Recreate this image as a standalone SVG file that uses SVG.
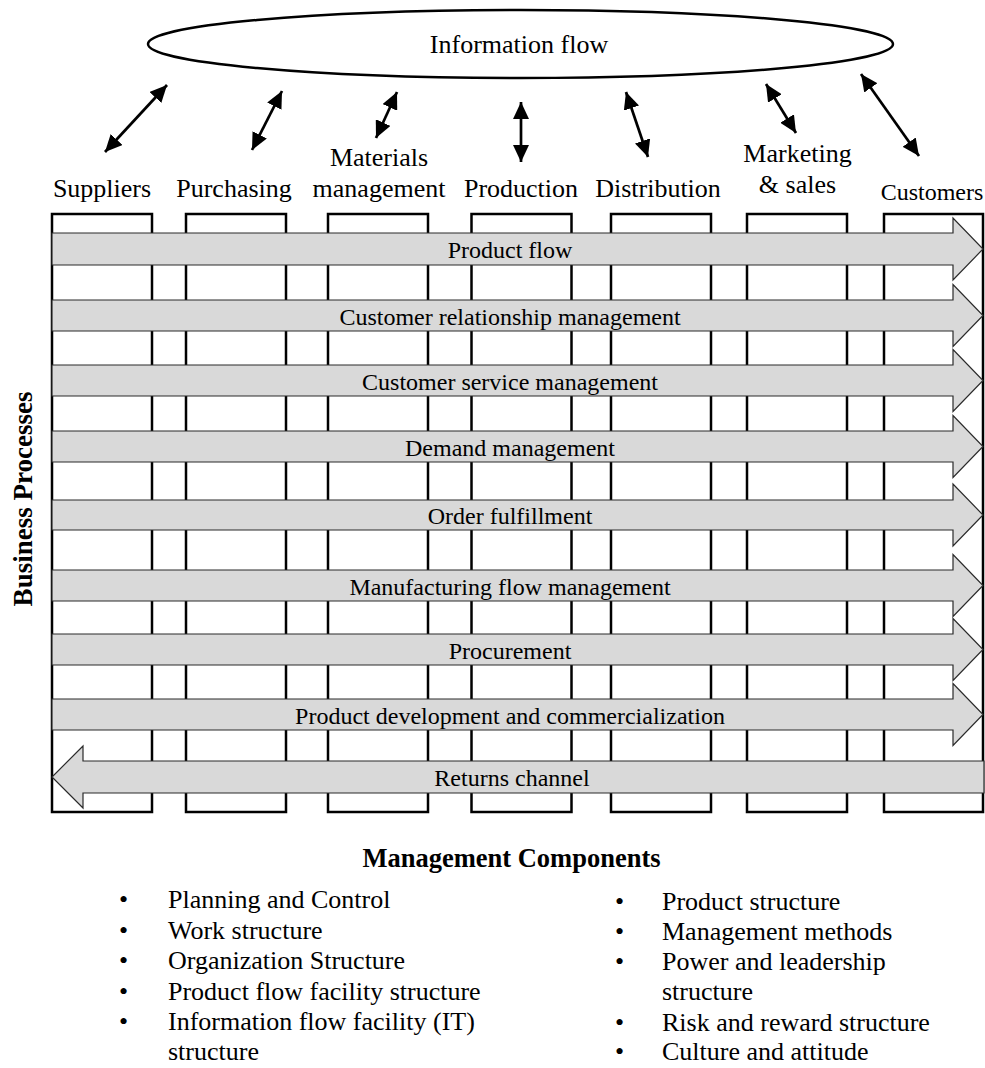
<svg xmlns="http://www.w3.org/2000/svg" width="985" height="1068" viewBox="0 0 985 1068">
  <style>
    text { font-family: "Liberation Serif", "Times New Roman", serif; fill: #000; }
    .hdr { font-size: 26px; text-anchor: middle; }
    .band-label { font-size: 24px; text-anchor: middle; }
    .item { font-size: 26px; }
    .bold { font-size: 26.5px; font-weight: bold; text-anchor: middle; }
    .col { fill: #fff; stroke: #000; stroke-width: 2.5; }
    .band { fill: #d9d9d9; stroke: #2a2a2a; stroke-width: 1.2; stroke-linejoin: miter; }
    .dbl { stroke: #000; stroke-width: 2.7; fill: none; marker-start: url(#head); marker-end: url(#head); }
  </style>
  <defs>
    <marker id="head" markerUnits="userSpaceOnUse" markerWidth="18" markerHeight="16" refX="17" refY="8" orient="auto-start-reverse" viewBox="0 0 18 16">
      <path d="M0,0 L17,8 L0,16 Z" fill="#000"/>
    </marker>
  </defs>
  <rect width="985" height="1068" fill="#fff"/>

  <!-- information flow ellipse -->
  <g id="info-flow">
    <ellipse cx="520.5" cy="44" rx="372.5" ry="34" fill="#fff" stroke="#000" stroke-width="2.5"/>
    <text class="hdr" x="519" y="52.5">Information flow</text>
  </g>

  <!-- supply chain members (columns) -->
  <g id="col-suppliers">
    <rect class="col" x="52" y="214" width="100" height="598"/>
    <text class="hdr" x="102" y="197">Suppliers</text>
  </g>
  <g id="col-purchasing">
    <rect class="col" x="186" y="214" width="100" height="598"/>
    <text class="hdr" x="234" y="197">Purchasing</text>
  </g>
  <g id="col-materials">
    <rect class="col" x="328" y="214" width="100" height="598"/>
    <text class="hdr" x="379" y="166">Materials</text>
    <text class="hdr" x="379" y="197">management</text>
  </g>
  <g id="col-production">
    <rect class="col" x="471.5" y="214" width="100" height="598"/>
    <text class="hdr" x="521" y="197">Production</text>
  </g>
  <g id="col-distribution">
    <rect class="col" x="611" y="214" width="100" height="598"/>
    <text class="hdr" x="658" y="197">Distribution</text>
  </g>
  <g id="col-marketing">
    <rect class="col" x="747" y="214" width="100" height="598"/>
    <text class="hdr" x="797.5" y="162">Marketing</text>
    <text class="hdr" x="797.5" y="193">&amp; sales</text>
  </g>
  <g id="col-customers">
    <rect class="col" x="884" y="214" width="99" height="598"/>
    <text class="hdr" x="932" y="200" style="font-size:24px">Customers</text>
  </g>

  <!-- business process bands -->
  <g id="proc-product-flow">
    <path class="band" d="M52,233 H953 V218 L983,249 L953,280 V265 H52 Z"/>
    <text class="band-label" x="510" y="258">Product flow</text>
  </g>
  <g id="proc-crm">
    <path class="band" d="M52,300 H953 V284.5 L983,315.5 L953,346.5 V331 H52 Z"/>
    <text class="band-label" x="510" y="324.5">Customer relationship management</text>
  </g>
  <g id="proc-csm">
    <path class="band" d="M52,365 H953 V349.5 L983,380.5 L953,411.5 V396 H52 Z"/>
    <text class="band-label" x="510" y="389.5">Customer service management</text>
  </g>
  <g id="proc-demand">
    <path class="band" d="M52,431 H953 V415.5 L983,446.5 L953,477.5 V462 H52 Z"/>
    <text class="band-label" x="510" y="455.5">Demand management</text>
  </g>
  <g id="proc-order">
    <path class="band" d="M52,500 H953 V484 L983,515 L953,546 V530 H52 Z"/>
    <text class="band-label" x="510" y="524">Order fulfillment</text>
  </g>
  <g id="proc-manufacturing">
    <path class="band" d="M52,570 H953 V554.5 L983,585.5 L953,616.5 V601 H52 Z"/>
    <text class="band-label" x="510" y="594.5">Manufacturing flow management</text>
  </g>
  <g id="proc-procurement">
    <path class="band" d="M52,634 H953 V618.5 L983,649.5 L953,680.5 V665 H52 Z"/>
    <text class="band-label" x="510" y="658.5">Procurement</text>
  </g>
  <g id="proc-development">
    <path class="band" d="M52,699 H953 V683.5 L983,714.5 L953,745.5 V730 H52 Z"/>
    <text class="band-label" x="510" y="723.5">Product development and commercialization</text>
  </g>
  <g id="proc-returns">
    <path class="band" d="M984,761 V793 H83 V808 L52,777 L83,746 V761 Z"/>
    <text class="band-label" x="512" y="786">Returns channel</text>
  </g>

  <!-- links between each member and the information flow -->
  <g id="connectors">
    <line class="dbl" x1="105" y1="152" x2="167" y2="85"/>
    <line class="dbl" x1="252" y1="150" x2="282" y2="91"/>
    <line class="dbl" x1="376" y1="138" x2="397" y2="92"/>
    <line class="dbl" x1="521" y1="162" x2="521" y2="102"/>
    <line class="dbl" x1="648" y1="157" x2="626" y2="92"/>
    <line class="dbl" x1="796" y1="133" x2="766" y2="84"/>
    <line class="dbl" x1="919" y1="156" x2="861" y2="74"/>
  </g>

  <!-- side caption -->
  <g id="business-processes">
    <text class="bold" style="font-size:27px" transform="translate(32,499) rotate(-90)">Business Processes</text>
  </g>

  <!-- management components list -->
  <g id="management-components">
    <text class="bold" x="511.5" y="867">Management Components</text>
    <g class="item">
      <text x="119" y="908">•</text><text x="168" y="908">Planning and Control</text>
      <text x="119" y="939">•</text><text x="168" y="939">Work structure</text>
      <text x="119" y="969">•</text><text x="168" y="969">Organization Structure</text>
      <text x="119" y="1000">•</text><text x="168" y="1000">Product flow facility structure</text>
      <text x="119" y="1030">•</text><text x="168" y="1030">Information flow facility (IT)</text>
      <text x="168" y="1060">structure</text>

      <text x="615" y="910">•</text><text x="662" y="910">Product structure</text>
      <text x="615" y="940">•</text><text x="662" y="940">Management methods</text>
      <text x="615" y="970">•</text><text x="662" y="970">Power and leadership</text>
      <text x="662" y="1000">structure</text>
      <text x="615" y="1031">•</text><text x="662" y="1031">Risk and reward structure</text>
      <text x="615" y="1060">•</text><text x="662" y="1060">Culture and attitude</text>
    </g>
  </g>
</svg>
